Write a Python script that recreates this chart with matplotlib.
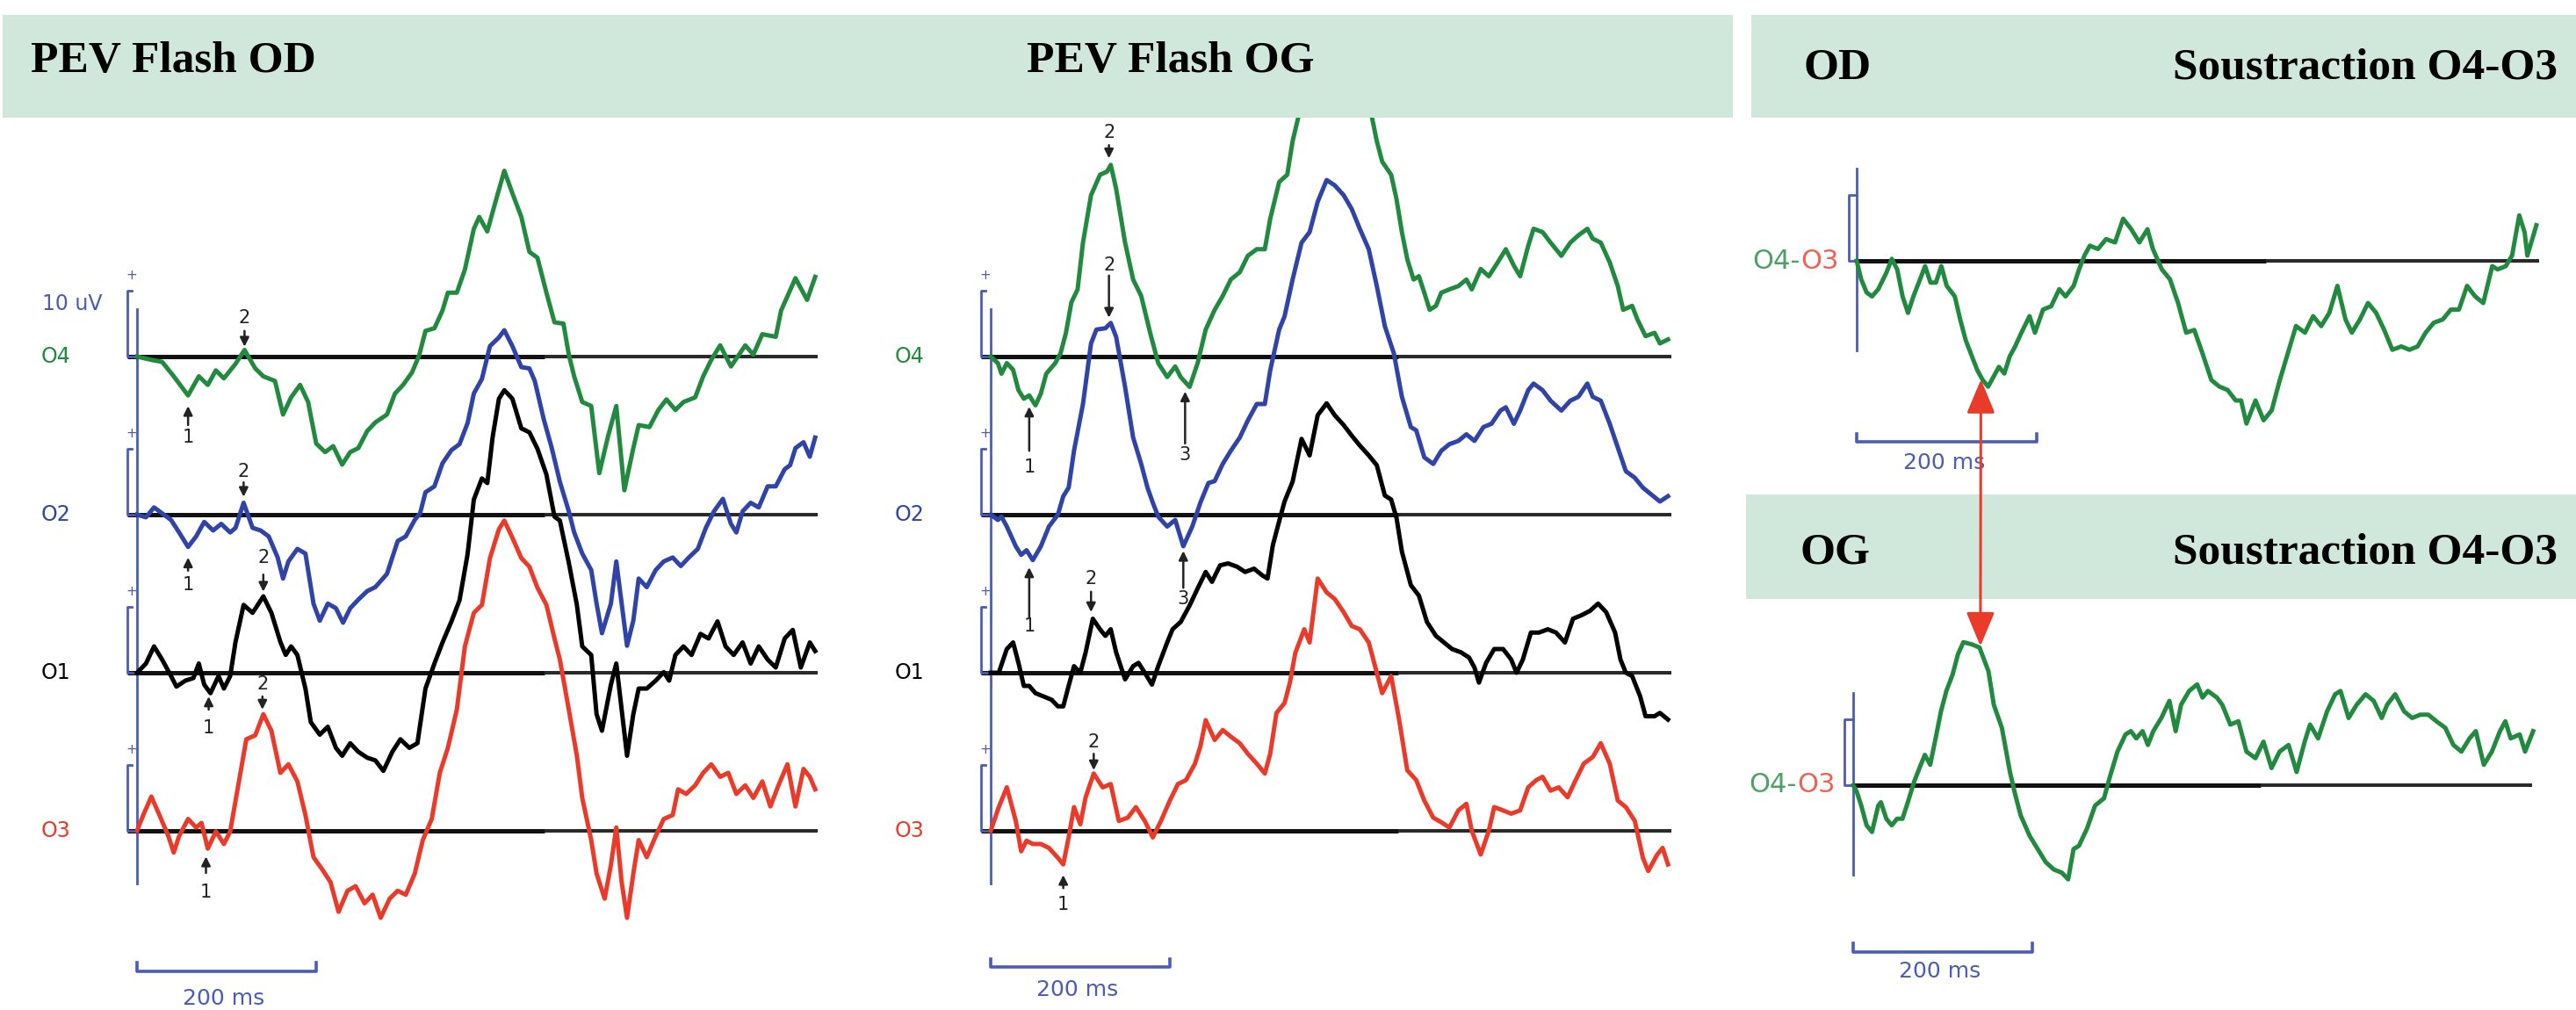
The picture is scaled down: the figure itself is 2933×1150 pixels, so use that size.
import matplotlib.pyplot as plt
from matplotlib.patches import Rectangle, ConnectionPatch

# traces: (time in ms, amplitude in uV)
od_o4 = [(0,0),(16,-0.5),(28,-0.8),(41,-3.0),(57,-5.9),(69,-3.0),(79,-4.3),(88,-2.1),(97,-3.3),(110,-1.1),
         (120,1.0),(132,-1.8),(141,-3.0),(154,-3.7),(163,-8.8),(172,-6.2),(182,-4.3),(191,-6.9),(200,-13.2),(210,-14.5),
         (219,-13.6),(229,-16.4),(238,-14.5),(247,-13.9),(257,-11.3),(266,-10.0),(279,-8.8),(288,-5.6),(297,-4.3),(307,-2.4),
         (315,0.2),(322,3.9),(332,4.3),(341,7.0),(347,9.7),(357,9.7),(366,13.2),(376,19.4),(382,21.2),(391,19.0),
         (401,23.9),(410,28.2),(419,24.8),(429,21.2),(438,15.9),(447,15.0),(457,9.7),(466,5.2),(476,5.0),(482,0.3),
         (488,-3.0),(497,-6.9),(507,-7.5),(516,-17.7),(526,-12.0),(535,-7.5),(544,-20.3),(554,-13.9),(560,-10.4),(572,-10.7),
         (582,-8.1),(591,-6.5),(601,-8.1),(610,-6.9),(623,-6.2),(632,-3.0),(641,-0.5),(651,1.7),(663,-1.5),(679,1.7),
         (688,0.3),(698,3.4),(713,3.0),(719,7.0),(735,11.9),(748,8.6),(757,12.1)]
od_o2 = [(0,0),(10,-0.4),(19,1.1),(28,0.2),(38,-0.8),(47,-2.7),(57,-4.9),(66,-3.3),(75,-1.1),(85,-2.4),
         (94,-1.4),(104,-2.7),(110,-2.0),(119,1.8),(129,-2.0),(138,-2.4),(147,-3.3),(157,-6.5),(163,-9.7),(169,-7.1),
         (179,-5.2),(188,-5.9),(197,-13.5),(204,-16.1),(213,-13.5),(222,-14.2),(230,-16.4),(238,-14.2),(247,-12.9),(257,-11.6),
         (266,-11.0),(279,-9.0),(291,-4.0),(300,-3.3),(310,-0.8),(316,0.2),(322,3.4),(332,4.3),(341,7.8),(351,9.8),
         (360,10.7),(369,13.9),(376,18.4),(385,20.6),(394,25.6),(404,26.9),(410,28.0),(419,25.6),(429,22.4),(438,22.2),
         (444,20.3),(454,14.5),(463,10.1),(472,5.0),(482,0.5),(488,-2.7),(497,-5.9),(507,-8.4),(513,-13.5),(519,-18.0),
         (529,-13.5),(535,-7.1),(541,-13.5),(547,-19.9),(554,-16.1),(560,-9.7),(569,-11.0),(579,-8.4),(588,-7.1),(598,-6.5),
         (607,-7.8),(616,-6.5),(626,-5.2),(635,-2.0),(644,0.5),(654,2.4),(663,-1.4),(669,-2.7),(676,0.5),(685,1.8),
         (694,1.1),(704,4.3),(713,4.3),(723,6.9),(729,7.5),(735,10.1),(744,11.0),(751,8.8),(757,11.7)]
od_o1 = [(0,0),(10,1.4),(19,4.0),(28,2.0),(38,-0.5),(44,-2.1),(54,-1.2),(63,-0.8),(69,1.4),(75,-1.8),
         (82,-3.1),(91,-0.5),(97,-2.4),(104,-0.5),(110,4.7),(119,10.3),(129,9.1),(141,11.6),(150,9.1),(160,4.7),
         (166,2.7),(172,4.0),(179,2.7),(188,-2.4),(194,-7.5),(204,-9.4),(213,-8.2),(222,-11.4),(229,-12.6),(238,-10.7),
         (247,-12.0),(257,-12.9),(266,-13.3),(275,-14.9),(285,-12.0),(294,-10.1),(304,-11.4),(313,-10.7),(322,-2.4),(332,1.4),
         (341,4.6),(351,7.8),(360,11.0),(369,18.0),(376,26.3),(385,29.5),(391,28.8),(397,35.8),(404,41.6),(410,42.9),
         (419,41.6),(429,37.1),(438,36.5),(447,34.0),(457,30.1),(466,23.7),(472,23.1),(482,16.7),(491,10.3),(497,4.0),
         (507,2.7),(513,-6.3),(519,-8.8),(529,-1.8),(535,1.4),(541,-5.6),(547,-12.6),(554,-6.3),(560,-2.4),(569,-2.4),
         (579,-1.2),(588,0.1),(594,-1.2),(601,2.7),(610,4.0),(619,2.7),(629,5.9),(638,5.2),(648,7.8),(657,4.0),
         (666,2.7),(676,4.6),(685,1.4),(694,4.0),(704,2.0),(713,0.8),(723,5.2),(732,6.5),(741,0.8),(751,4.6),(757,3.3)]
od_o3 = [(0,0),(7,2.4),(16,5.2),(25,2.4),(35,-0.8),(41,-3.3),(47,-0.8),(57,1.8),(66,0.5),(72,1.2),
         (79,-2.7),(88,-0.1),(97,-2.0),(104,-0.1),(113,6.9),(122,13.9),(132,14.5),(141,17.7),(150,15.2),(160,8.8),
         (169,10.1),(179,7.5),(188,2.4),(197,-4.0),(207,-5.9),(216,-7.8),(225,-12.3),(235,-9.1),(244,-8.4),(254,-11.0),
         (263,-9.7),(272,-13.2),(282,-10.3),(291,-9.1),(300,-9.7),(310,-6.5),(319,-1.4),(329,1.8),(338,8.8),(347,12.6),
         (357,18.4),(366,28.0),(376,33.1),(385,34.3),(394,41.4),(404,45.8),(410,47.1),(419,44.5),(429,41.4),(438,40.1),
         (447,36.9),(457,34.3),(466,29.2),(472,26.0),(482,18.4),(491,11.4),(497,5.0),(507,-1.4),(513,-6.5),(522,-10.3),
         (529,-5.2),(535,0.5),(541,-7.8),(547,-13.2),(554,-6.5),(560,-1.4),(569,-4.0),(579,-0.8),(588,1.8),(598,2.4),
         (604,6.3),(613,5.6),(623,6.9),(632,8.8),(641,10.1),(651,8.2),(660,8.8),(669,5.6),(679,6.9),(688,5.0),
         (698,7.5),(707,3.7),(716,6.9),(726,10.1),(735,3.7),(744,9.4),(751,8.2),(757,6.3)]

og_o4 = [(0,0),(8,-1.0),(12,-2.6),(18,-1.0),(25,-2.0),(31,-5.1),(37,-6.4),(43,-5.9),(50,-7.4),(56,-5.6),
         (62,-2.6),(72,-1.0),(78,0.5),(84,3.6),(90,8.2),(97,10.2),(103,17.3),(112,24.5),(122,27.6),(130,28.1),
         (134,29.1),(140,25.5),(150,17.3),(159,11.7),(168,9.2),(178,3.6),(187,-1.0),(197,-3.1),(206,-1.5),(212,-3.1),
         (222,-4.6),(231,-1.0),(240,4.1),(250,7.1),(259,9.2),(268,11.7),(278,12.8),(287,15.3),(297,16.3),(306,16.3),
         (312,20.9),(322,26.5),(331,27.6),(337,32.7),(344,36.7),(359,42.0),(375,46.0),(394,47.0),(412,42.0),(425,36.7),
         (431,32.7),(437,29.6),(447,27.6),(453,23.9),(459,18.9),(465,14.8),(472,11.7),(478,12.2),(484,9.7),(490,7.1),
         (497,7.7),(503,9.7),(512,10.2),(522,10.7),(531,11.7),(537,10.2),(547,13.3),(556,12.2),(566,14.3),(575,16.3),
         (584,13.8),(591,12.2),(600,16.8),(606,19.4),(616,18.9),(625,17.3),(637,15.3),(647,17.3),(656,18.4),(666,19.4),
         (672,17.9),(681,17.3),(691,14.3),(700,10.7),(706,7.1),(716,7.7),(722,5.6),(731,3.1),(741,3.6),(747,2.0),(756,2.6)]
og_o2 = [(0,0),(8,-0.8),(12,-0.3),(18,-1.8),(28,-4.8),(34,-6.1),(40,-5.4),(47,-6.9),(56,-4.8),(65,-1.8),
         (75,0.0),(81,2.8),(87,4.1),(93,9.7),(103,16.8),(112,26.0),(118,28.1),(128,28.3),(134,29.1),(140,27.0),
         (150,19.4),(159,11.7),(168,7.7),(175,4.1),(181,1.8),(187,-0.3),(197,-1.8),(206,-0.8),(215,-4.8),(225,-1.8),
         (234,1.8),(243,4.8),(250,5.1),(259,7.7),(268,9.7),(278,11.7),(287,14.3),(297,16.8),(306,16.8),(312,21.9),
         (322,28.1),(328,30.1),(337,35.7),(347,41.3),(356,42.9),(365,47.5),(375,50.8),(384,50.0),(394,48.5),(403,46.4),
         (412,43.4),(422,40.3),(431,34.7),(440,28.6),(450,24.5),(459,17.9),(469,13.3),(475,12.8),(484,8.7),(494,7.7),
         (503,9.7),(512,10.7),(522,11.2),(531,12.2),(540,11.2),(550,13.3),(559,13.8),(569,15.8),(575,16.3),(584,13.8),
         (591,15.8),(600,18.9),(606,19.9),(616,18.9),(625,17.3),(637,15.8),(647,17.3),(656,17.9),(666,19.9),(672,17.9),
         (681,17.3),(691,13.8),(700,10.2),(709,6.6),(719,5.6),(728,4.1),(737,3.1),(747,2.0),(756,2.8)]
og_o1 = [(0,0),(9,0.0),(18,3.6),(25,4.6),(31,1.5),(37,-2.0),(43,-2.0),(50,-3.1),(59,-3.6),(68,-4.1),
         (75,-5.1),(81,-5.1),(87,-2.0),(93,1.0),(100,0.0),(106,3.1),(114,8.2),(122,6.6),(128,5.6),(134,6.6),
         (140,3.1),(150,-1.0),(159,1.0),(165,1.5),(172,0.0),(180,-1.8),(187,1.0),(197,4.6),(203,6.6),(212,7.7),
         (222,10.2),(231,12.8),(240,15.3),(247,13.8),(256,16.3),(265,16.6),(275,16.1),(284,15.3),(294,15.8),(303,14.8),
         (309,14.3),(315,19.4),(322,23.0),(328,26.0),(337,29.0),(347,35.5),(356,33.0),(365,39.1),(375,40.9),(384,39.1),
         (394,37.6),(403,36.0),(412,34.5),(422,33.0),(431,31.5),(440,26.9),(447,26.3),(453,23.5),(459,18.4),(469,13.3),
         (478,11.7),(487,7.7),(497,5.6),(506,4.6),(515,3.6),(525,3.1),(534,2.3),(540,0.8),(545,-1.5),(553,1.5),
         (562,3.6),(572,3.6),(581,2.0),(587,0.0),(594,2.0),(603,6.1),(612,6.1),(622,6.6),(631,6.1),(641,4.6),
         (650,8.2),(659,8.7),(669,9.4),(678,10.5),(687,9.2),(697,6.1),(703,2.0),(709,0.0),(716,-0.5),(725,-3.6),
         (731,-6.6),(741,-6.6),(747,-6.1),(756,-7.1)]
og_o3 = [(0,0),(9,3.6),(18,6.6),(28,1.5),(34,-3.1),(40,-1.5),(47,-2.0),(56,-2.0),(65,-2.6),(75,-4.1),
         (81,-5.1),(87,-1.0),(93,3.6),(100,1.0),(106,5.1),(115,8.7),(125,6.6),(134,7.1),(143,1.5),(153,2.0),
         (162,3.6),(172,1.5),(181,-1.0),(190,1.5),(200,4.6),(209,7.1),(218,7.7),(228,10.2),(234,12.8),(240,16.8),
         (250,13.8),(259,15.3),(268,14.3),(278,13.3),(287,11.7),(297,10.2),(306,8.7),(312,11.7),(319,17.9),(328,19.4),
         (334,22.5),(340,27.0),(350,30.6),(356,28.6),(365,38.3),(375,36.2),(384,35.2),(394,33.2),(403,31.1),(412,30.6),
         (422,28.6),(431,24.0),(437,20.9),(447,23.5),(456,16.8),(465,9.2),(475,7.7),(484,4.6),(494,2.0),(503,1.3),
         (512,0.5),(522,3.1),(531,4.1),(537,0.0),(547,-3.6),(556,0.0),(562,3.6),(572,3.1),(581,2.6),(591,3.1),
         (600,6.6),(609,7.7),(616,8.2),(625,6.1),(634,6.6),(644,5.1),(653,7.7),(662,10.2),(672,11.2),(681,13.3),
         (691,10.2),(700,4.6),(709,3.6),(719,1.5),(728,-4.1),(734,-6.1),(744,-3.6),(750,-2.6),(756,-5.1)]

od_diff = [(0,0),(5,-2.8),(11,-4.8),(17,-5.4),(24,-4.3),(33,-1.8),(39,0.3),(45,-1.3),(51,-5.4),(57,-7.9),
           (63,-5.4),(69,-3.3),(76,-0.8),(82,-3.3),(88,-3.3),(94,-0.8),(100,-3.8),(109,-5.4),(115,-8.9),(121,-12.0),
           (128,-14.5),(134,-16.6),(140,-18.1),(146,-19.1),(152,-17.6),(158,-16.1),(164,-17.1),(170,-14.5),(176,-13.0),(183,-10.9),
           (192,-8.4),(198,-10.9),(207,-7.4),(216,-6.9),(225,-4.3),(232,-5.4),(241,-3.8),(247,-1.3),(253,0.8),(259,2.3),
           (268,1.8),(277,3.3),(287,2.8),(296,6.4),(305,4.8),(314,2.8),(323,4.8),(329,1.8),(339,-1.3),(348,-2.8),
           (357,-6.4),(366,-10.9),(375,-10.5),(384,-14.0),(394,-18.1),(403,-19.1),(412,-19.6),(421,-21.2),(427,-21.2),(433,-24.7),
           (443,-21.2),(452,-24.2),(461,-22.7),(470,-18.1),(479,-14.0),(488,-9.9),(498,-10.9),(507,-8.4),(516,-9.9),(525,-7.9),
           (534,-3.8),(543,-8.9),(550,-10.9),(559,-8.9),(568,-6.4),(577,-7.9),(586,-10.5),(595,-13.5),(605,-13.0),(614,-13.5),
           (623,-13.0),(632,-10.9),(641,-9.4),(651,-8.9),(660,-7.4),(669,-7.4),(678,-3.8),(687,-5.4),(696,-6.4),(706,-0.8),
           (712,-1.3),(721,-0.8),(728,0.8),(736,6.9),(742,4.3),(745,0.8),(755,5.4)]
og_diff = [(0,0),(4,-1.0),(9,-3.1),(15,-6.1),(21,-7.1),(28,-3.1),(31,-2.6),(37,-5.1),(43,-6.1),(49,-5.1),
           (55,-5.1),(61,-2.6),(68,0.5),(74,2.6),(80,4.6),(86,3.1),(92,7.1),(98,11.2),(104,14.3),(111,16.8),
           (117,19.9),(123,21.7),(132,21.4),(141,20.9),(151,17.3),(157,12.2),(166,8.7),(175,2.0),(181,-1.5),(187,-4.6),
           (197,-7.7),(206,-9.7),(215,-11.7),(224,-12.8),(233,-13.3),(240,-14.3),(246,-9.7),(252,-9.2),(261,-6.6),(270,-3.1),
           (280,-2.0),(286,1.0),(295,5.1),(304,7.7),(310,8.2),(316,7.1),(323,8.2),(329,6.1),(335,8.2),(344,10.2),
           (353,12.8),(360,8.2),(366,12.2),(375,14.3),(384,15.3),(390,13.3),(396,14.3),(406,13.3),(412,12.2),(421,9.2),
           (430,9.7),(439,5.1),(449,4.1),(458,6.6),(467,2.6),(476,5.1),(486,6.1),(495,2.0),(504,6.6),(510,9.2),
           (519,7.1),(529,11.2),(538,13.8),(544,14.3),(553,10.2),(562,12.2),(572,13.8),(581,12.8),(590,10.2),(596,12.2),
           (605,13.8),(615,11.2),(624,10.2),(633,10.7),(642,10.7),(651,9.7),(661,8.7),(670,6.1),(679,5.1),(688,7.1),
           (695,8.2),(704,3.1),(713,5.1),(722,8.2),(728,9.7),(734,7.1),(744,7.7),(750,5.1),(759,8.2)]

channels = ['O4', 'O2', 'O1', 'O3']

# peak markers: (channel index, ms, arrow tip, arrow tail, label position, label)
od_marks = [(0, 120, 1.5, 3.9, 5.9, '2'), (0, 57, -7.5, -10.4, -12.3, '1'),
            (1, 119, 2.7, 4.9, 6.5, '2'), (1, 57, -6.5, -8.5, -10.7, '1'),
            (2, 141, 12.3, 14.9, 17.5, '2'), (2, 80, -3.6, -5.6, -8.4, '1'),
            (3, 140, 18.4, 20.4, 22.3, '2'), (3, 77, -3.9, -6.4, -9.3, '1')]
og_marks = [(0, 132, 30.1, 32.1, 34.0, '2'), (0, 43, -7.6, -14.3, -16.8, '1'), (0, 217, -5.3, -13.2, -14.9, '3'),
            (1, 132, 29.9, 36.3, 37.9, '2'), (1, 43, -8.0, -15.6, -16.9, '1'), (1, 215, -5.5, -11.1, -12.8, '3'),
            (2, 112, 9.2, 12.3, 14.3, '2'),
            (3, 115, 9.2, 11.7, 13.5, '2'), (3, 81, -6.7, -8.7, -11.2, '1')]

GREEN = '#218a3f'
BLUE = '#2f44a6'
RED = '#ea3a2a'
CAL = '#4b5cb5'
BAND = '#cfe8db'
colors = [GREEN, BLUE, 'black', RED]
spacing = 24  # uV between channel baselines

W, H = 2933, 1150
fig = plt.figure(figsize=(W / 100, H / 100), dpi=100)
fig.patch.set_facecolor('white')


def panel(x0, x1, y0, y1, t0, base, pms=1.02, puv=7.5):
    ax = fig.add_axes([x0 / W, 1 - y1 / H, (x1 - x0) / W, (y1 - y0) / H])
    ax.set_xlim((x0 - t0) / pms, (x1 - t0) / pms)
    ax.set_ylim((base - y1) / puv, (base - y0) / puv)
    ax.axis('off')
    return ax


def baseline(ax, y, t_start, t_end):
    ax.plot([t_start, 455], [y, y], color='#111111', lw=3.6, zorder=2, solid_capstyle='butt')
    ax.plot([455, t_end], [y, y], color='#2a2a2a', lw=2.9, zorder=2, solid_capstyle='butt')


def scalebar(ax, y, ty):
    ax.plot([0, 0, 200, 200], [y + 1.3, y, y, y + 1.3], color=CAL, lw=2.6)
    ax.text(97, ty, '200 ms', color=CAL, fontsize=18, ha='center', va='center')


def montage(ax, traces, marks, with_uv):
    offs = [-i * spacing for i in range(4)]
    ax.plot([0, 0], [7.2, offs[3] - 8], color=CAL, lw=2.0, zorder=2)
    for i, (pts, col) in enumerate(zip(traces, colors)):
        o = offs[i]
        baseline(ax, o, -11, 760)
        ax.plot([-6, -11, -11, 0], [o + 10, o + 10, o, o], color=CAL, lw=2.0, zorder=2)
        ax.text(-6, o + 12.3, '+', color=CAL, fontsize=11, ha='center', va='center')
        t, v = zip(*pts)
        ax.plot(t, [x + o for x in v], color=col, lw=3.6, zorder=3, solid_joinstyle='round')
        ax.text(-91, o, channels[i], color=col, fontsize=17, ha='center', va='center')
    for ch, t, tip, tail, lab, s in marks:
        o = offs[ch]
        ax.annotate('', xy=(t, o + tip), xytext=(t, o + tail),
                    arrowprops=dict(arrowstyle='-|>', color='#222222', lw=1.8,
                                    mutation_scale=15, shrinkA=0, shrinkB=0), zorder=4)
        ax.text(t, o + lab, s, color='#222222', fontsize=15, ha='center', va='center')
    if with_uv:
        ax.text(-72, 8, '10 uV', color=CAL, fontsize=17, ha='center', va='center')


def diff_panel(ax, pts, tb, bar_y, text_y):
    baseline(ax, 0, 0, 758)
    ax.plot([0, 0], [14, -13.6], color=CAL, lw=2.0, zorder=2)
    ax.plot([0, tb, tb, 0], [10, 10, 0, 0], color=CAL, lw=2.0, zorder=2)
    t, v = zip(*pts)
    ax.plot(t, v, color=GREEN, lw=3.6, zorder=3, solid_joinstyle='round')
    lab = ax.text(-20, 0, 'O3', color=RED, fontsize=22, ha='right', va='center', alpha=0.8)
    ax.annotate('O4-', xy=(0, 0.5), xycoords=lab, color=GREEN, fontsize=22,
                ha='right', va='center', alpha=0.8)
    scalebar(ax, bar_y, text_y)


ax1 = panel(0, 1000, 134, 1150, 156, 406)
montage(ax1, [od_o4, od_o2, od_o1, od_o3], od_marks, True)
scalebar(ax1, -93.3, -97.5)

ax2 = panel(1000, 1990, 134, 1150, 1128, 406)
montage(ax2, [og_o4, og_o2, og_o1, og_o3], og_marks, False)
scalebar(ax2, -92.7, -96.2)

ax3 = panel(1940, 2933, 134, 563, 2114, 297, pms=1.025)
diff_panel(ax3, od_diff, -9, -27.5, -30.7)

ax4 = panel(1940, 2933, 682, 1150, 2110, 894)
diff_panel(ax4, og_diff, -10, -25.3, -28.3)

# title bands
for x0, y0, x1, y1 in [(3, 17, 1973, 134), (1994, 17, 2933, 134), (1988, 563, 2933, 682)]:
    fig.add_artist(Rectangle((x0 / W, 1 - y1 / H), (x1 - x0) / W, (y1 - y0) / H,
                             transform=fig.transFigure, fc=BAND, ec='none', zorder=1))

hdr = dict(fontsize=37, family='Liberation Serif', weight='bold', va='baseline', zorder=3)
fig.text(35 / W, 1 - 82 / H, 'PEV Flash OD', ha='left', **hdr)
fig.text(1169 / W, 1 - 82 / H, 'PEV Flash OG', ha='left', **hdr)
fig.text(2053 / W, 1 - 89 / H, 'OD', ha='left', **hdr)
fig.text(2912 / W, 1 - 89 / H, 'Soustraction O4-O3', ha='right', **hdr)
fig.text(2050 / W, 1 - 642 / H, 'OG', ha='left', **hdr)
fig.text(2912 / W, 1 - 642 / H, 'Soustraction O4-O3', ha='right', **hdr)

# red double arrow linking the OD trough and the OG peak
con = ConnectionPatch(xyA=(138, -18.0), coordsA='data', axesA=ax3,
                      xyB=(142, 21.1), coordsB='data', axesB=ax4,
                      arrowstyle='<|-|>,head_length=0.6,head_width=0.25', mutation_scale=40,
                      color=RED, lw=2.2, shrinkA=0, shrinkB=0, zorder=6)
fig.add_artist(con)

fig.savefig('out.png', dpi=100)
